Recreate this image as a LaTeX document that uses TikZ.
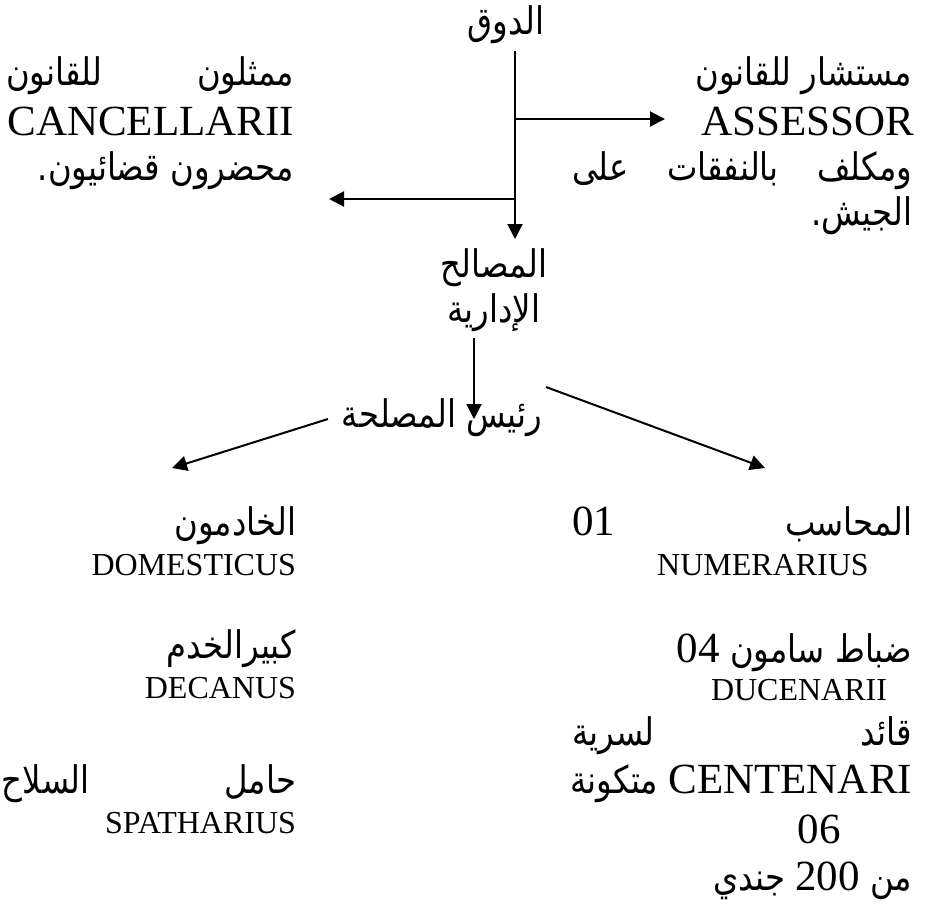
\documentclass[tikz,border=0pt]{standalone}
\usepackage{fontspec}
\usepackage{tikz}
\usetikzlibrary{arrows.meta}
\setmainfont{Liberation Serif}
\newfontfamily\arabicfont[Script=Arabic, FakeStretch=0.85]{DejaVu Sans}
\TeXXeTstate=1
\newcommand{\arfont}{\arabicfont\fontsize{19}{23}\selectfont}
\newcommand{\bigfont}{\rmfamily\fontsize{21.5}{25}\selectfont}
\newcommand{\smallfont}{\rmfamily\fontsize{16}{19}\selectfont}
\newcommand{\arx}[1]{\beginR #1\endR}
\newcommand{\ltn}[1]{\beginL{\bigfont #1}\endL{}}

\begin{document}
\begin{tikzpicture}[x=0.5pt, y=-0.5pt, line width=1pt,
      >={Triangle[length=7.5pt, width=7.5pt]},
      ar/.style={font=\arfont, inner sep=0pt},
      big/.style={font=\bigfont, inner sep=0pt},
      small/.style={font=\smallfont, inner sep=0pt}]
    \useasboundingbox (0,0) rectangle (925,905);
    % top
    \node[ar, anchor=base] (duke) at (506,34) {\arx{الدوق}};
    \node[ar, anchor=base east] (adv1) at (913,85) {\arx{مستشار للقانون}};
    \node[big, anchor=base east] (adv2) at (915,135) {ASSESSOR};
    \node[ar, anchor=base east] (adv3) at (913,180) {\hbox to 170pt{\beginR ومكلف\hfill بالنفقات\hfill على\endR}};
    \node[ar, anchor=base east] (adv4) at (913,225) {\arx{الجيش.}};
    \node[ar, anchor=base east] (rep1) at (295,85) {\hbox to 144pt{\beginR ممثلون\hfill للقانون\endR}};
    \node[big, anchor=base east] (rep2) at (295,135) {CANCELLARII};
    \node[ar, anchor=base east] (rep3) at (295,180) {\arx{محضرون قضائيون.}};
    \node[ar, anchor=base] (svc1) at (494,277) {\arx{المصالح}};
    \node[ar, anchor=base] (svc2) at (494,322) {\arx{الإدارية}};
    \node[ar, anchor=base] (chief) at (442,427) {\arx{رئيس المصلحة}};
    % bottom left
    \node[ar, anchor=base east] (srv1) at (297,535) {\arx{الخادمون}};
    \node[small, anchor=base east] (srv2) at (297,575) {DOMESTICUS};
    \node[ar, anchor=base east] (dec1) at (297,658) {\arx{كبيرالخدم}};
    \node[small, anchor=base east] (dec2) at (297,698) {DECANUS};
    \node[ar, anchor=base east] (arm1) at (297,793) {\hbox to 147pt{\beginR حامل\hfill السلاح\endR}};
    \node[small, anchor=base east] (arm2) at (297,833) {SPATHARIUS};
    % bottom right
    \node[ar, anchor=base east] (acc1) at (913,535) {\hbox to 170pt{\beginR المحاسب\hfill\ltn{01}\endR}};
    \node[small, anchor=base] (acc2) at (763,575) {NUMERARIUS};
    \node[ar, anchor=base east] (duc1) at (913,662) {\arx{ضباط سامون \ltn{04}}};
    \node[small, anchor=base east] (duc2) at (888,700) {DUCENARII};
    \node[ar, anchor=base east] (cen1) at (913,745) {\hbox to 170pt{\beginR قائد\hfill لسرية\endR}};
    \node[ar, anchor=base east] (cen2) at (913,793) {\arx{\ltn{CENTENARI} متكونة}};
    \node[big, anchor=base] (cen3) at (819,843) {06};
    \node[ar, anchor=base east] (cen4) at (913,890) {\arx{من \ltn{200} جندي}};
    % connectors
    \coordinate (d0) at (515,51);
    \coordinate (d1) at (515,119);
    \coordinate (d2) at (515,199);
    \coordinate (d3) at (515,239);
    \coordinate (advtip) at (665,119);
    \coordinate (reptip) at (329,199);
    \coordinate (s0) at (474,338);
    \coordinate (s1) at (474,419);
    \coordinate (cl) at (328,419);
    \coordinate (cr) at (546,387);
    \coordinate (lefttip) at (172,468);
    \coordinate (righttip) at (765,468);
    \draw[->] (d0) -- (d3);
    \draw[->] (d1) -- (advtip);
    \draw[->] (d2) -- (reptip);
    \draw[->] (s0) -- (s1);
    \draw[->] (cl) -- (lefttip);
    \draw[->] (cr) -- (righttip);
\end{tikzpicture}
\end{document}
